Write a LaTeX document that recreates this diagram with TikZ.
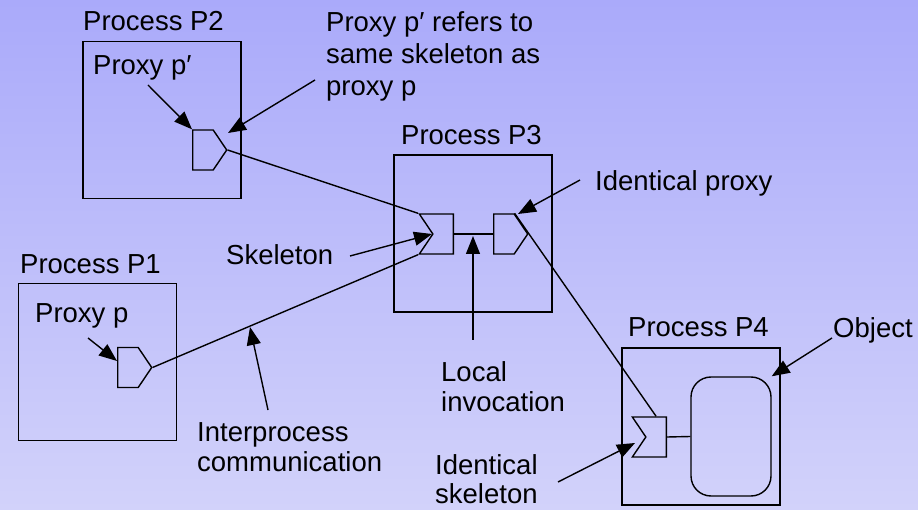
\documentclass[tikz,border=0pt]{standalone}
\usepackage{fontspec}
\setmainfont{Liberation Sans}
\usetikzlibrary{shapes.symbols, arrows.meta}
\definecolor{bgtop}{RGB}{170,170,250}
\definecolor{bgbottom}{RGB}{210,210,250}
\tikzset{
    x=1pt, y=-1pt, % one unit is one pixel of the original, y runs down
    process/.style={draw, line width=1.8pt, minimum width=158pt, minimum height=157pt, inner sep=0pt}, % the process boxes
    proxy/.style={draw, line width=1.4pt, signal, signal to=east, signal pointer angle=112, minimum width=34pt, minimum height=40pt, inner sep=0pt},
    skeleton/.style={draw, line width=1.4pt, signal, signal from=west, signal to=nowhere, signal pointer angle=112, minimum width=34pt, minimum height=40pt, inner sep=0pt},
    object/.style={draw, line width=1.4pt, rounded corners=20pt, minimum width=80pt, minimum height=119pt, inner sep=0pt},
    lbl/.style={anchor=north west, align=left, inner sep=0pt, font=\fontsize{27.5}{32}\selectfont},
    pointer/.style={-{Triangle[length=18pt,width=14pt]}, line width=1.4pt}, % the label arrows
    wire/.style={line width=1.4pt},
}
\begin{document}
\begin{tikzpicture}
    \fill[top color=bgtop, bottom color=bgbottom] (0,0) rectangle (918,510);
    \useasboundingbox (0,0) rectangle (918,510);

    % processes
    \node[process] (p2) at (162,120) {};
    \node[process] (p3) at (473,233.5) {};
    \node[process] (p1) at (97.5,362) {};
    \node[process] (p4) at (701,426.5) {};
    \node[lbl] (p2title) at (83,11) {Process P2};
    \node[lbl] (p3title) at (401,125) {Process P3};
    \node[lbl] (p1title) at (20,254) {Process P1};
    \node[lbl] (p4title) at (628,317) {Process P4};

    % proxies, skeletons and the object
    \node[proxy, anchor=west] (pp2) at (192,150) {};
    \node[proxy, anchor=west] (pp1) at (117,367.5) {};
    \node[proxy, anchor=west] (pp3) at (493,234) {};
    \node[skeleton, anchor=west] (sk3) at (432,234) {}; % west is the inner point of the notch
    \node[skeleton, anchor=west] (sk4) at (645,437) {};
    \node[object] (obj) at (731,436.5) {};

    \draw[wire] (pp2.east) -- (sk3.north west);
    \draw[wire] (pp1.east) -- (sk3.south west);
    \draw[wire] (sk3.east) -- (pp3.west);
    \draw[wire] (pp3.north east) -- (sk4.north);
    \draw[wire] (sk4.east) -- (obj.west);

    % labels
    \node[lbl] (lproxy2) at (93,55) {Proxy p′};
    \node[lbl] (lrefers) at (326,11) {Proxy p′ refers to\\same skeleton as\\proxy p};
    \node[lbl] (lidproxy) at (595,170) {Identical proxy};
    \node[lbl] (lskel) at (226,244) {Skeleton};
    \node[lbl] (lproxy1) at (35,303) {Proxy p};
    \node[lbl, font=\fontsize{27.5}{30}\selectfont] (lipc) at (197,422) {Interprocess\\communication};
    \node[lbl, font=\fontsize{27.5}{30}\selectfont] (llocal) at (441,361) {Local\\invocation};
    \node[lbl] (lobj) at (833,317) {Object};
    \node[lbl, font=\fontsize{27.5}{29}\selectfont] (lidskel) at (435,454) {Identical\\skeleton};

    % arrows from the labels
    \coordinate (a1) at (148,85);
    \coordinate (a2) at (315,80);
    \coordinate (a3) at (580,180);
    \coordinate (a4) at (350,256);
    \coordinate (a5) at (473,340);
    \coordinate (a6) at (88,338);
    \coordinate (a7) at (268,410);
    \coordinate (a8) at (832,338);
    \coordinate (a9) at (558,482);
    \coordinate (ipc) at (250,327);
    \draw[pointer] (a1) -- (pp2.north west);
    \draw[pointer] (a2) -- (228,133);
    \draw[pointer] (a3) -- (518,214);
    \draw[pointer] (a4) -- (sk3.west);
    \draw[pointer] (a5) -- (473,236);
    \draw[pointer] (a6) -- (117,361);
    \draw[pointer] (a7) -- (ipc);
    \draw[pointer] (a8) -- (obj.north east);
    \draw[pointer] (a9) -- (635,443);
\end{tikzpicture}
\end{document}
